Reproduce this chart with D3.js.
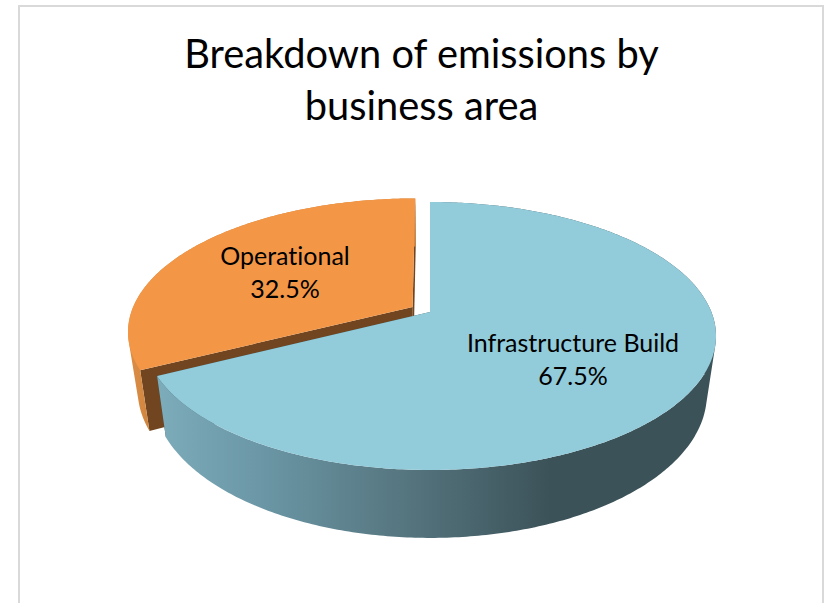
<!DOCTYPE html>
<html>
<head>
<meta charset="utf-8">
<script src="https://cdn.jsdelivr.net/npm/d3@7"></script>
<style>
  html, body { margin: 0; padding: 0; background: #fff; overflow: hidden; }
  svg { display: block; }
  text { font-family: Lato, "Open Sans", sans-serif; fill: #000; text-anchor: middle; font-variant-ligatures: none; }
</style>
</head>
<body>
<svg id="chart" width="830" height="603"></svg>
<script>
// Chart content
const titleLines = ["Breakdown of emissions by", "business area"];
const categories = ["Infrastructure Build", "Operational"];
const shares = [67.5, 32.5];
const topColors = ["#92cbda", "#f39646"];
const cutColors = ["#3f555c", "#70451f"];
const explode = [0, 0.073];

const svg = d3.select("#chart");
const defs = svg.append("defs");

// Perspective of the disc: centre, semi-axes and foreshortening of the far edge
const view = { cx: 430, cy: 312, a: 281.4, b: 129.7, k: 0.179 };
// The lower face sits further from the eye: narrower, but seen at a steeper angle
const base = { sx: 0.968, sy: 1.073, cy: 368.4 };

function project(u, v, lower) {
  const w = 1 + view.k * v;
  const px = view.a * u / w;
  const py = -view.b * v / w;
  return lower
    ? [view.cx + base.sx * px, base.cy + base.sy * py]
    : [view.cx + px, view.cy + py];
}

const pie = d3.pie().sort(null).startAngle(0).endAngle(2 * Math.PI);
const arcs = pie(shares);

function offsetOf(d, i) {
  const mid = (d.startAngle + d.endAngle) / 2;
  return [explode[i] * Math.sin(mid), explode[i] * Math.cos(mid)];
}
function rimPoint(d, i, angle, lower) {
  const [ou, ov] = offsetOf(d, i);
  return project(ou + Math.sin(angle), ov + Math.cos(angle), lower);
}
function centrePoint(d, i, lower) {
  const [ou, ov] = offsetOf(d, i);
  return project(ou, ov, lower);
}
function anglesOf(d) {
  const n = Math.ceil((d.endAngle - d.startAngle) / 0.012);
  return d3.range(n + 1).map(j => d.startAngle + (d.endAngle - d.startAngle) * j / n);
}

// Shading of the curved walls runs left to right
const wallStops = [
  [[0, "#7cabb9"], [0.18, "#6b97a6"], [0.44, "#567680"], [0.71, "#3c5259"], [1, "#3c5259"]],
  [[0, "#dd8e47"], [1, "#cf853f"]]
];
const wallRanges = [[160, 710], [128, 150]];
wallStops.forEach((stops, i) => {
  const g = defs.append("linearGradient")
    .attr("id", "wall" + i)
    .attr("gradientUnits", "userSpaceOnUse")
    .attr("x1", wallRanges[i][0]).attr("x2", wallRanges[i][1])
    .attr("y1", 0).attr("y2", 0);
  stops.forEach(s => g.append("stop").attr("offset", s[0]).attr("stop-color", s[1]));
});

const line = d3.line();

// Far slice first so the near one overlaps it
[1, 0].forEach(i => {
  const d = arcs[i];
  const angles = anglesOf(d);
  const slice = svg.append("g").attr("class", "slice");

  // Flat faces exposed by the cut along each straight edge
  [d.startAngle, d.endAngle].forEach(edge => {
    slice.append("path")
      .attr("d", line([
        centrePoint(d, i, false),
        rimPoint(d, i, edge, false),
        rimPoint(d, i, edge, true),
        centrePoint(d, i, true)
      ]) + "Z")
      .attr("fill", cutColors[i]);
  });

  // Curved wall: quads wound the same way and merged, so no seams show between them
  const wallPath = d3.pairs(angles).map(([a0, a1]) => {
    const quad = [
      rimPoint(d, i, a0, false),
      rimPoint(d, i, a1, false),
      rimPoint(d, i, a1, true),
      rimPoint(d, i, a0, true)
    ];
    return line(d3.polygonArea(quad) < 0 ? quad.reverse() : quad) + "Z";
  }).join("");
  slice.append("path").attr("d", wallPath).attr("fill", `url(#wall${i})`);

  // Top face
  slice.append("path")
    .attr("d", line([centrePoint(d, i, false)].concat(angles.map(a => rimPoint(d, i, a, false)))) + "Z")
    .attr("fill", topColors[i]);
});

// Frame, open at the bottom of the page
svg.append("path")
  .attr("d", "M19,603V6H823V603")
  .attr("fill", "none")
  .attr("stroke", "#d9d9d9")
  .attr("stroke-width", 2);

// Title
svg.selectAll("text.title").data(titleLines).join("text")
  .attr("class", "title")
  .attr("x", 421.5)
  .attr("y", (d, i) => 68 + i * 52)
  .attr("font-size", 39.8)
  .text(d => d);

// Data labels
const labelAnchors = [[573, 352], [285, 265]];
arcs.forEach((d, i) => {
  const [x, y] = labelAnchors[i];
  svg.append("text").attr("class", "label").attr("x", x).attr("y", y).attr("font-size", 25).text(categories[i]);
  svg.append("text").attr("class", "label").attr("x", x).attr("y", y + 32.5).attr("font-size", 25).text(shares[i].toFixed(1) + "%");
});
</script>
</body>
</html>
